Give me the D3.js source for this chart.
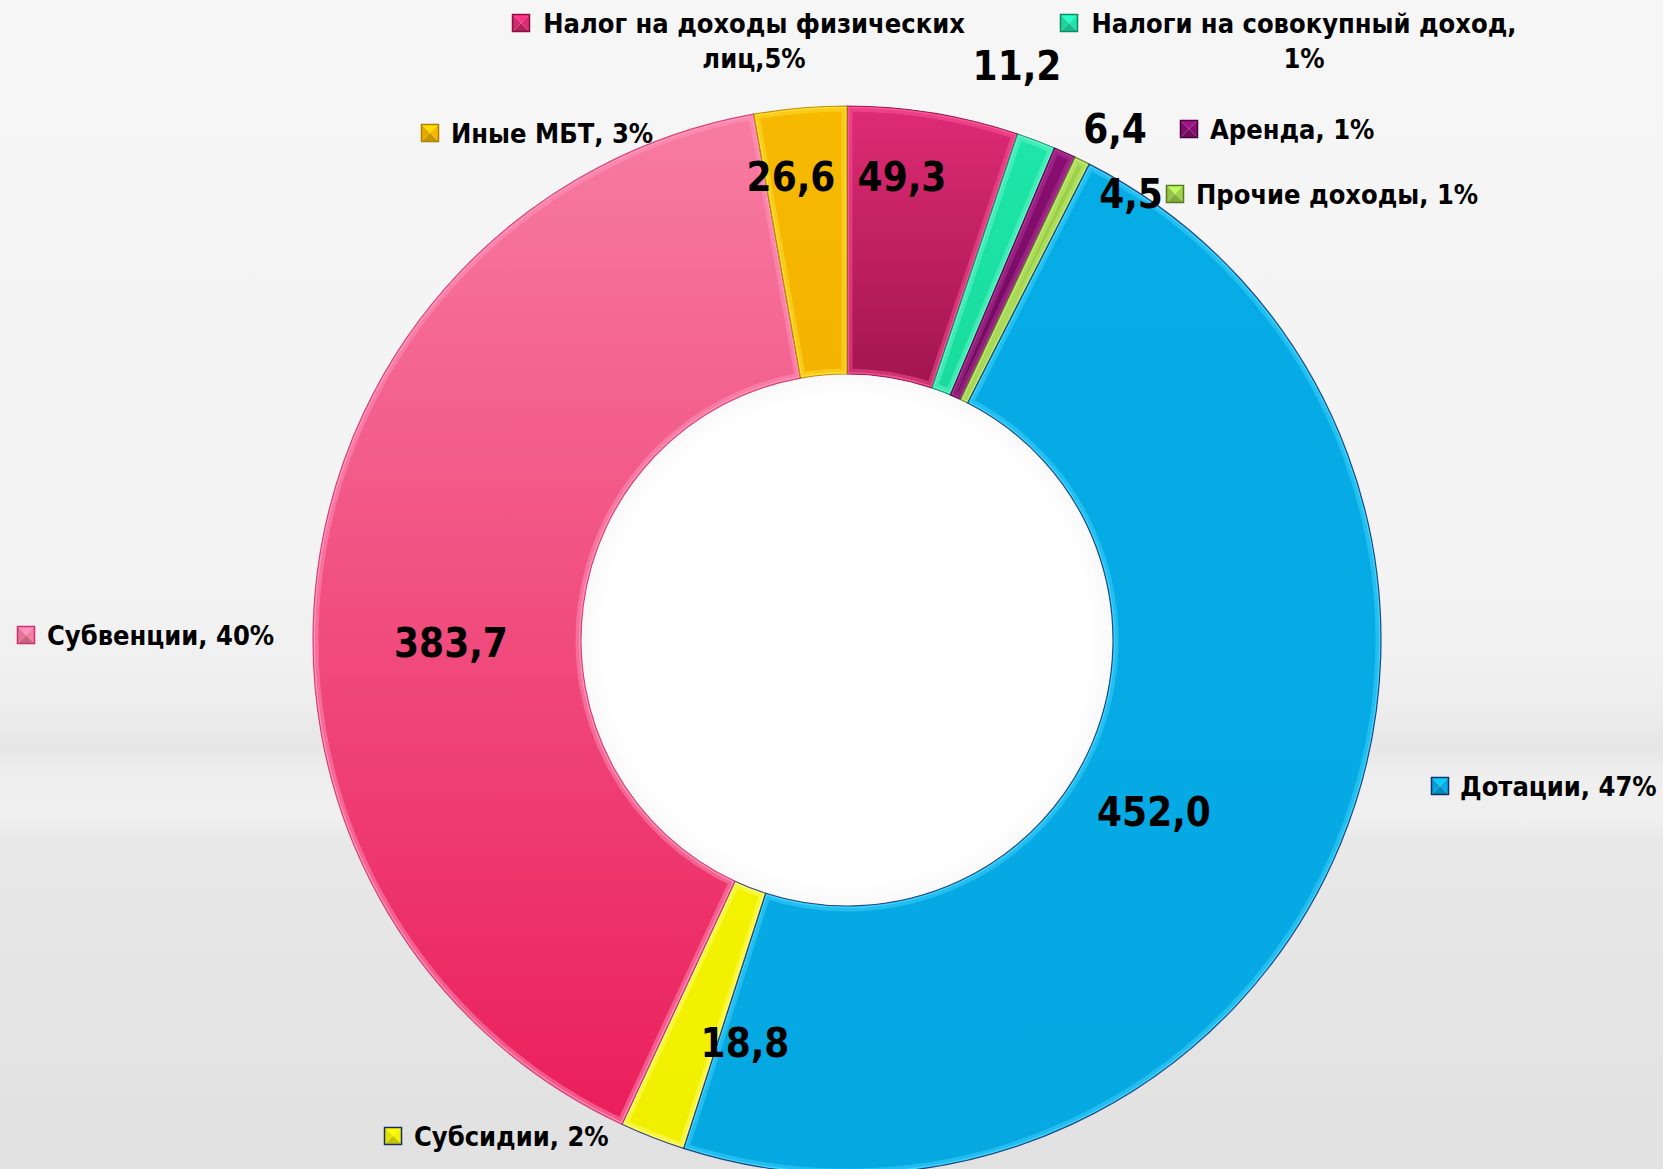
<!DOCTYPE html>
<html>
<head>
<meta charset="utf-8">
<script src="https://cdn.jsdelivr.net/npm/d3@7/dist/d3.min.js"></script>
<style>
  html, body { margin: 0; padding: 0; background: #f5f5f5; }
  svg { display: block; }
  text { font-family: "DejaVu Sans Condensed", "DejaVu Sans", sans-serif; font-stretch: condensed; font-weight: bold; fill: #000; }
</style>
</head>
<body>
<svg id="chart" width="1663" height="1169"></svg>
<script>
// ---------------- DATA ----------------
const categories = ["Налог на доходы физических лиц", "Налоги на совокупный доход", "Аренда", "Прочие доходы",
                    "Дотации", "Субсидии", "Субвенции", "Иные МБТ"];
const values = [49.3, 11.2, 6.4, 4.5, 452.0, 18.8, 383.7, 26.6];
const percentLabels = ["5%", "1%", "1%", "1%", "47%", "2%", "40%", "3%"];
const legendLines = [
  ["Налог на доходы физических", "лиц,5%"],
  ["Налоги на совокупный доход,", "1%"],
  ["Аренда, 1%"],
  ["Прочие доходы, 1%"],
  ["Дотации, 47%"],
  ["Субсидии, 2%"],
  ["Субвенции, 40%"],
  ["Иные МБТ, 3%"]
];

// ---------------- STYLE / LAYOUT ----------------
const W = 1663, H = 1169;
const cx = 847, cy = 640, rOuter = 534, rInner = 266;
const sliceTop    = ["#de2b75", "#1de6a8", "#8a0f73", "#9fd24b", "#06ace6", "#f3f300", "#f77ca2", "#f6b900"];
const sliceBottom = ["#a2154f", "#19dc9c", "#6c0a5a", "#8cc23c", "#06a8e2", "#f0ef00", "#ea1e5b", "#f4b300"];
const bevelColor  = ["#ff5aa0", "#6ff8cf", "#b43a9a", "#c8f07a", "#45d8ff", "#ffff80", "#ff9cc0", "#ffe53a"];
const edgeColor   = ["#8a1040", "#0e8a66", "#4a0040", "#5a7a20", "#10306e", "#1a2a70", "#d0306a", "#b08000"];
const valuePos = [[902, 177], [1017, 66], [1115, 129], [1131, 194], [1154, 812], [745, 1043], [451, 643], [791, 177]];
const legendPos = [
  {mx: 521, tx: 543, y: 23, center: 754},
  {mx: 1069, tx: 1090, y: 23, center: 1304},
  {mx: 1189, tx: 1210, y: 129},
  {mx: 1175, tx: 1196, y: 194},
  {mx: 1440, tx: 1460, y: 786},
  {mx: 393, tx: 414, y: 1136},
  {mx: 26, tx: 47, y: 635},
  {mx: 430, tx: 451, y: 133}
];
const legendFont = 27, valueFont = 40, lineGap = 35, markerSize = 17;

// ---------------- DRAW ----------------
const svg = d3.select("#chart");
const defs = svg.append("defs");

// background
const bg = defs.append("linearGradient").attr("id", "bg").attr("x1", 0).attr("y1", 0).attr("x2", 0).attr("y2", 1);
[[0, "#f6f6f6"], [0.5, "#f3f3f3"], [0.6, "#eeeeee"], [0.64, "#e6e6e6"], [0.66, "#eeeeee"], [0.7, "#f0f0f0"],
 [0.72, "#e8e8e8"], [0.8, "#e6e6e6"], [1, "#e1e1e1"]]
  .forEach(([o, c]) => bg.append("stop").attr("offset", o).attr("stop-color", c));
svg.append("rect").attr("width", W).attr("height", H).attr("fill", "url(#bg)");

// inner white hole
const hole = defs.append("radialGradient").attr("id", "hole");
hole.append("stop").attr("offset", 0).attr("stop-color", "#ffffff");
hole.append("stop").attr("offset", 0.9).attr("stop-color", "#ffffff");
hole.append("stop").attr("offset", 1).attr("stop-color", "#f7f7f7");
svg.append("circle").attr("cx", cx).attr("cy", cy).attr("r", rInner + 4).attr("fill", "url(#hole)");

const pie = d3.pie().sort(null).value(d => d);
const arcs = pie(values);
const arc = d3.arc().innerRadius(rInner).outerRadius(rOuter);

arcs.forEach((a, i) => {
  const g = defs.append("linearGradient").attr("id", "sg" + i).attr("gradientUnits", "objectBoundingBox")
    .attr("x1", 0).attr("y1", 0).attr("x2", 0).attr("y2", 1);
  g.append("stop").attr("offset", 0).attr("stop-color", sliceTop[i]);
  g.append("stop").attr("offset", 1).attr("stop-color", sliceBottom[i]);
  defs.append("clipPath").attr("id", "clip" + i).append("path").attr("d", arc(a));
});

const gPie = svg.append("g").attr("transform", `translate(${cx},${cy})`);
const slices = gPie.selectAll("g.slice").data(arcs).join("g").attr("class", "slice");
slices.append("path").attr("d", arc).attr("fill", (d, i) => `url(#sg${i})`);
// bevel: soft wide light band inside the edge
slices.append("path").attr("d", arc)
  .attr("fill", "none")
  .attr("stroke", (d, i) => bevelColor[i])
  .attr("stroke-width", 11)
  .attr("stroke-opacity", 0.45)
  .attr("clip-path", (d, i) => `url(#clip${i})`);
// bevel: brighter narrow line
slices.append("path").attr("d", arc)
  .attr("fill", "none")
  .attr("stroke", (d, i) => bevelColor[i])
  .attr("stroke-width", 4)
  .attr("stroke-opacity", 0.8)
  .attr("clip-path", (d, i) => `url(#clip${i})`);
// thin dark outline
slices.append("path").attr("d", arc)
  .attr("fill", "none")
  .attr("stroke", (d, i) => edgeColor[i])
  .attr("stroke-width", 1.2)
  .attr("stroke-opacity", 0.85);

// value labels
const fmt = d3.formatLocale({decimal: ",", thousands: " ", grouping: [3], currency: ["", ""]}).format(".1f");
svg.append("g").selectAll("text").data(values).join("text")
  .attr("x", (d, i) => valuePos[i][0])
  .attr("y", (d, i) => valuePos[i][1])
  .attr("text-anchor", "middle")
  .attr("dominant-baseline", "central")
  .attr("font-size", valueFont)
  .text(d => fmt(d));

// category labels with legend keys
const gLeg = svg.append("g");
categories.forEach((c, i) => {
  const p = legendPos[i];
  const lines = legendLines[i];
  const g = gLeg.append("g");
  const s = markerSize, x0 = p.mx - s / 2, y0 = p.y - s / 2;
  const col = d3.color(sliceTop[i]);
  const tri = (pts, fill) => g.append("polygon").attr("points", pts.map(q => q.join(",")).join(" ")).attr("fill", fill);
  const m = [p.mx, p.y];
  tri([[x0, y0], [x0 + s, y0], m], col.brighter(0.5));
  tri([[x0 + s, y0], [x0 + s, y0 + s], m], col);
  tri([[x0, y0 + s], [x0 + s, y0 + s], m], col.darker(0.6));
  tri([[x0, y0], [x0, y0 + s], m], col.darker(0.2));
  g.append("rect").attr("x", x0).attr("y", y0).attr("width", s).attr("height", s)
    .attr("fill", "none").attr("stroke", edgeColor[i]).attr("stroke-width", 1.5);
  lines.forEach((t, k) => {
    const txt = g.append("text")
      .attr("font-size", legendFont)
      .attr("dominant-baseline", "central")
      .attr("y", p.y + k * lineGap)
      .text(t);
    if (p.center !== undefined) txt.attr("x", p.center).attr("text-anchor", "middle");
    else txt.attr("x", p.tx);
  });
});
</script>
</body>
</html>
